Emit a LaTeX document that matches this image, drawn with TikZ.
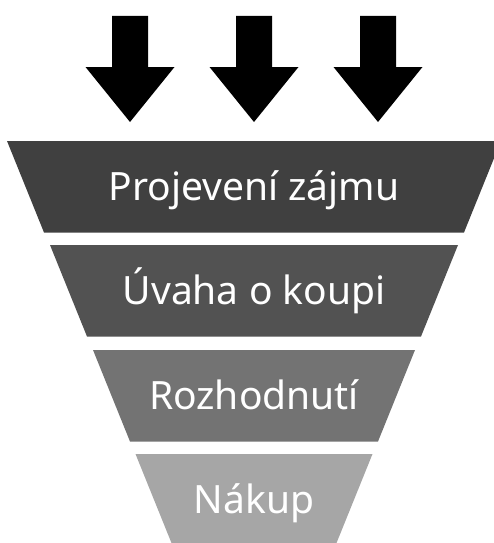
\documentclass[tikz,border=0pt]{standalone}
\usepackage{fontspec}
\setmainfont{Noto Sans}

\definecolor{stufeA}{HTML}{404040}
\definecolor{stufeB}{HTML}{525252}
\definecolor{stufeC}{HTML}{737373}
\definecolor{stufeD}{HTML}{A6A6A6}

\def\mx{254}
% arrow pointing down, #1 = x of its axis
\def\pfeil#1{
	\fill[black] (#1-18,16) -- (#1+18,16) -- (#1+18,67) -- (#1+44.5,67)
		-- (#1,122) -- (#1-44.5,67) -- (#1-18,67) -- cycle;
}
% one layer of the funnel: top y, half width at top, colour, name, text
\def\stufe#1#2#3#4#5{
	\fill[color=#3] (\mx-#2,#1) -- (\mx+#2,#1)
		-- (\mx+#2-37,#1+91.5) -- (\mx-#2+37,#1+91.5) -- cycle;
	\node[stufetext] (#4) at (\mx,#1+59.5) {#5};
}

\begin{document}
\begin{tikzpicture}[x=1pt,y=-1pt,
	stufetext/.style={anchor=base,inner sep=0pt,text=white,
		font=\fontsize{39}{45}\selectfont}]

\useasboundingbox (0,0) rectangle (494,543);
\clip (0,0) rectangle (494,543);

\foreach \x in {130,254,378}{
	\pfeil{\x}
}

\stufe{141}{247}{stufeA}{zajem}{Projevení zájmu}
\stufe{245}{204}{stufeB}{uvaha}{Úvaha o koupi}
\stufe{350}{161}{stufeC}{rozhodnuti}{Rozhodnutí}
\stufe{454}{118.5}{stufeD}{nakup}{Nákup}

\end{tikzpicture}
\end{document}
